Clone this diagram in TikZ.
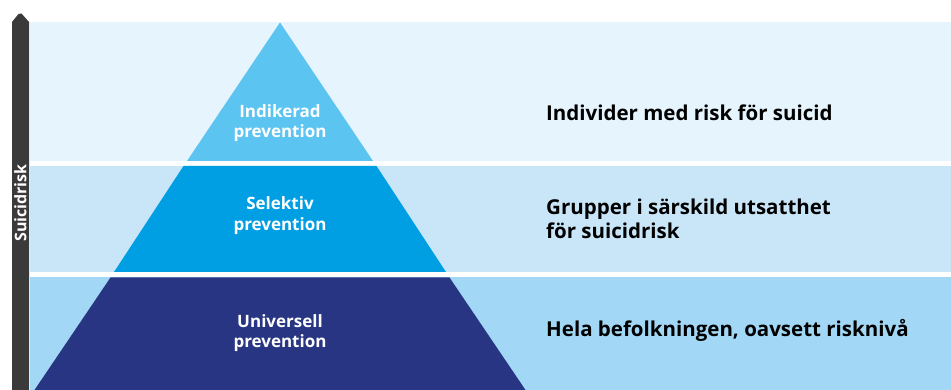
\documentclass[tikz,border=0pt]{standalone}
\usepackage{fontspec}
\setmainfont{Open Sans}
\definecolor{bandA}{HTML}{E6F4FD}
\definecolor{bandB}{HTML}{C8E6F8}
\definecolor{bandC}{HTML}{A2D8F5}
\definecolor{pyrA}{HTML}{5BC4F1}
\definecolor{pyrB}{HTML}{009FE3}
\definecolor{pyrC}{HTML}{283583}
\definecolor{barcol}{HTML}{3A3A3A}
\tikzset{
  pyrlabel/.style={text=white, font=\bfseries\fontsize{17}{20.5}\selectfont, align=center, inner sep=0pt},
  desc/.style={text=black, font=\bfseries\fontsize{20.5}{24}\selectfont, align=left, anchor=west, inner sep=0pt},
}
\begin{document}
\begin{tikzpicture}[x=1pt,y=-1pt]
\useasboundingbox (0,0) rectangle (951,390);
\fill[white] (0,0) rectangle (951,390);
% bands
\fill[bandA] (30,22.5) rectangle (951,161);
\fill[bandB] (30,166) rectangle (951,272);
\fill[bandC] (30,277.5) rectangle (951,390);
% pyramid
\fill[pyrA] (280,22.5) -- (373,161) -- (187,161) -- cycle;
\fill[pyrB] (183.5,166) -- (376.5,166) -- (446,272) -- (114,272) -- cycle;
\fill[pyrC] (110.5,277.5) -- (449.5,277.5) -- (525.5,390) -- (34.5,390) -- cycle;
% risk bar
\fill[barcol] (12,390) -- (12,22) -- (18.5,14) -- (21.5,13.5) -- (29,22) -- (29,390) -- cycle;
\node[text=white, font=\bfseries\fontsize{16}{18}\selectfont, rotate=90, inner sep=0pt] (risk) at (20.5,203) {Suicidrisk};
% pyramid labels
\node[pyrlabel] (ind) at (280,123) {Indikerad\\prevention};
\node[pyrlabel] (sel) at (280,215.5) {Selektiv\\prevention};
\node[pyrlabel] (uni) at (280,333) {Universell\\prevention};
% descriptions
\node[desc] (dind) at (546,113) {Individer med risk för suicid};
\node[desc] (dsel) at (546,219) {Grupper i särskild utsatthet\\för suicidrisk};
\node[desc] (duni) at (546,330) {Hela befolkningen, oavsett risknivå};
\end{tikzpicture}
\end{document}
